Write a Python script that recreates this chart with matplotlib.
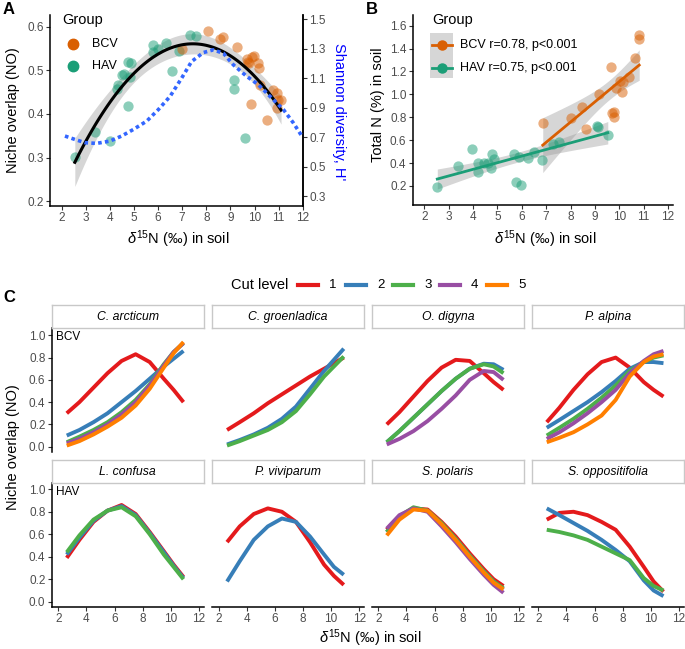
import numpy as np
import matplotlib
matplotlib.use("Agg")
import matplotlib.pyplot as plt
from matplotlib.patches import Rectangle
from matplotlib.lines import Line2D

plt.rcParams['font.family'] = ['Liberation Sans', 'DejaVu Sans']
plt.rcParams['mathtext.fontset'] = 'custom'
plt.rcParams['mathtext.rm'] = 'Liberation Sans'
plt.rcParams['mathtext.it'] = 'Liberation Sans:italic'

# ---------------- data ----------------
# Panel A: niche overlap vs d15N
hav_x_A = [2.55, 3.38, 4.00, 4.28, 4.35, 4.49, 4.59, 4.77, 4.88, 4.84, 4.77, 5.78, 5.80, 6.00,
           6.33, 6.56, 6.87, 7.32, 7.56, 9.15, 9.15, 9.61]
hav_y_A = [0.301, 0.358, 0.337, 0.457, 0.467, 0.490, 0.492, 0.520, 0.516, 0.484, 0.419, 0.558,
           0.543, 0.548, 0.563, 0.499, 0.545, 0.582, 0.579, 0.478, 0.457, 0.345]
bcv_x_A = [6.98, 8.09, 8.57, 8.71, 9.29, 9.68, 9.79, 9.89, 9.98, 9.75, 10.16, 10.20, 10.23,
           9.84, 10.50, 10.78, 10.92, 10.99, 11.10, 10.92]
bcv_y_A = [0.548, 0.591, 0.572, 0.577, 0.554, 0.525, 0.516, 0.530, 0.533, 0.520, 0.516, 0.505,
           0.467, 0.422, 0.387, 0.455, 0.448, 0.432, 0.432, 0.413]
# Shannon diversity curve (right axis)
shannon_x = [2.14, 2.55, 2.97, 3.45, 4.01, 4.49, 4.97, 5.53, 6.01, 6.50, 6.98, 7.39, 7.88, 8.29,
             8.71, 9.12, 9.68, 10.16, 10.64, 11.20, 11.61, 11.96]
shannon_h = [0.707, 0.684, 0.662, 0.657, 0.673, 0.707, 0.751, 0.808, 0.886, 0.976, 1.10, 1.212,
             1.273, 1.291, 1.268, 1.19, 1.111, 1.055, 0.976, 0.886, 0.796, 0.707]

# Panel B: total N vs d15N
hav_x_B = [2.53, 3.36, 3.95, 4.22, 4.19, 4.45, 4.63, 4.73, 4.77, 4.84, 5.68, 5.75, 5.96, 5.90,
           6.27, 6.48, 6.82, 7.30, 7.51, 9.08, 9.11, 9.53]
hav_y_B = [0.194, 0.375, 0.523, 0.398, 0.319, 0.398, 0.398, 0.360, 0.480, 0.433, 0.480, 0.238,
           0.209, 0.450, 0.447, 0.494, 0.427, 0.567, 0.580, 0.724, 0.718, 0.645]
bcv_x_B = [6.86, 8.00, 8.47, 8.64, 9.15, 9.67, 9.70, 9.77, 9.77, 9.85, 10.04, 10.15, 10.10,
           10.42, 10.66, 10.80, 10.82]
bcv_y_B = [0.753, 0.790, 0.887, 0.695, 1.000, 1.242, 0.840, 0.850, 0.805, 1.053, 1.117, 1.110,
           1.020, 1.150, 1.315, 1.520, 1.480]
legend_B = ["BCV r=0.78, p<0.001", "HAV r=0.75, p<0.001"]

# Panel C: niche overlap curves per species and cut level
x_grid = [2.6, 3.5, 4.5, 5.5, 6.5, 7.5, 8.5, 9.5, 10.2, 10.9]
c_arcticum = {1: [0.30, 0.40, 0.53, 0.66, 0.77, 0.83, 0.76, 0.61, 0.51, 0.40],
              2: [0.10, 0.15, 0.22, 0.30, 0.40, 0.50, 0.61, 0.72, 0.79, 0.86],
              3: [0.04, 0.09, 0.15, 0.22, 0.31, 0.42, 0.56, 0.74, 0.85, 0.93],
              4: [0.03, 0.07, 0.13, 0.20, 0.29, 0.40, 0.55, 0.73, 0.85, 0.93],
              5: [0.01, 0.05, 0.11, 0.18, 0.26, 0.37, 0.52, 0.71, 0.84, 0.94]}
c_groenladica = {1: [0.15, 0.22, 0.30, 0.39, 0.47, 0.55, 0.63, 0.70, 0.75, 0.80],
                 2: [0.02, 0.06, 0.11, 0.17, 0.25, 0.36, 0.52, 0.68, 0.78, 0.88],
                 3: [0.01, 0.05, 0.10, 0.15, 0.22, 0.32, 0.47, 0.63, 0.72, 0.81]}
o_digyna = {1: [0.20, 0.31, 0.45, 0.59, 0.71, 0.78, 0.77, 0.66, 0.58, 0.51],
            2: [0.04, 0.14, 0.26, 0.38, 0.50, 0.61, 0.70, 0.745, 0.74, 0.69],
            3: [0.04, 0.14, 0.26, 0.38, 0.50, 0.61, 0.70, 0.74, 0.72, 0.66],
            4: [0.02, 0.07, 0.14, 0.23, 0.34, 0.46, 0.60, 0.68, 0.67, 0.60]}
p_alpina = {1: [0.22, 0.35, 0.51, 0.65, 0.76, 0.80, 0.71, 0.58, 0.51, 0.45],
            2: [0.17, 0.24, 0.32, 0.40, 0.49, 0.59, 0.70, 0.76, 0.76, 0.75],
            3: [0.10, 0.17, 0.25, 0.34, 0.44, 0.55, 0.68, 0.76, 0.80, 0.82],
            4: [0.07, 0.13, 0.21, 0.30, 0.40, 0.51, 0.66, 0.77, 0.83, 0.86],
            5: [0.04, 0.08, 0.13, 0.20, 0.28, 0.42, 0.63, 0.76, 0.81, 0.83]}
l_confusa = {1: [0.39, 0.55, 0.71, 0.81, 0.86, 0.78, 0.62, 0.45, 0.33, 0.22],
             2: [0.42, 0.57, 0.72, 0.81, 0.85, 0.77, 0.61, 0.44, 0.32, 0.21],
             3: [0.44, 0.59, 0.73, 0.81, 0.84, 0.76, 0.60, 0.42, 0.31, 0.20]}
p_viviparum = {1: [0.53, 0.67, 0.78, 0.83, 0.80, 0.71, 0.53, 0.33, 0.23, 0.15],
               2: [0.18, 0.36, 0.55, 0.67, 0.74, 0.71, 0.58, 0.42, 0.31, 0.24]}
s_polaris = {1: [0.64, 0.76, 0.83, 0.82, 0.71, 0.58, 0.43, 0.29, 0.20, 0.14],
             2: [0.62, 0.75, 0.83, 0.81, 0.69, 0.56, 0.41, 0.27, 0.18, 0.11],
             3: [0.62, 0.76, 0.84, 0.81, 0.70, 0.56, 0.41, 0.27, 0.18, 0.12],
             4: [0.65, 0.77, 0.83, 0.80, 0.67, 0.53, 0.38, 0.24, 0.15, 0.08],
             5: [0.59, 0.73, 0.82, 0.81, 0.69, 0.55, 0.40, 0.26, 0.17, 0.11]}
s_oppositifolia = {1: [0.73, 0.79, 0.80, 0.77, 0.71, 0.64, 0.49, 0.31, 0.18, 0.09],
                   2: [0.83, 0.77, 0.70, 0.63, 0.55, 0.46, 0.36, 0.19, 0.10, 0.05],
                   3: [0.64, 0.62, 0.59, 0.55, 0.49, 0.43, 0.37, 0.21, 0.14, 0.10]}
species_names = ["C. arcticum", "C. groenladica", "O. digyna", "P. alpina",
                 "L. confusa", "P. viviparum", "S. polaris", "S. oppositifolia"]
species_data = [c_arcticum, c_groenladica, o_digyna, p_alpina,
                l_confusa, p_viviparum, s_polaris, s_oppositifolia]
row_labels = ["BCV", "HAV"]
cut_levels = [1, 2, 3, 4, 5]

# ---------------- style ----------------
BCV_C = "#D95F02"
HAV_C = "#1B9E77"
CUT_C = {1: "#E41A1C", 2: "#377EB8", 3: "#4DAF4A", 4: "#984EA3", 5: "#FF7F00"}
TICKC = "#4D4D4D"
TICK_FS = 8.5
W, H = 685, 649
fig = plt.figure(figsize=(W / 100, H / 100), dpi=100)


def rect(l, t, w, h):
    return [l / W, 1 - (t + h) / H, w / W, h / H]


def fx(px):
    return px / W


def fy(py):
    return 1 - py / H


def style_axis(ax, left=True, bottom=True, right=False):
    for s in ['top', 'right', 'left', 'bottom']:
        ax.spines[s].set_visible(False)
    if left:
        ax.spines['left'].set_visible(True)
    if bottom:
        ax.spines['bottom'].set_visible(True)
    if right:
        ax.spines['right'].set_visible(True)
    for s in ax.spines.values():
        s.set_linewidth(1.1)
        s.set_color('black')
    ax.tick_params(axis='both', length=3, width=0.8, color='#333333', labelcolor=TICKC,
                   labelsize=TICK_FS, pad=1.5)
    ax.set_facecolor('none')


def fit_ci(x, y, deg, xs, t):
    x = np.asarray(x, float)
    y = np.asarray(y, float)
    X = np.vander(x, deg + 1)
    beta, *_ = np.linalg.lstsq(X, y, rcond=None)
    resid = y - X @ beta
    dof = len(x) - deg - 1
    s2 = resid @ resid / dof
    XtXi = np.linalg.inv(X.T @ X)
    Xs = np.vander(xs, deg + 1)
    yhat = Xs @ beta
    se = np.sqrt(np.einsum('ij,jk,ik->i', Xs, XtXi, Xs) * s2)
    return yhat, yhat - t * se, yhat + t * se


# ---------------- Panel A ----------------
axA = fig.add_axes(rect(50, 15, 253, 191))
style_axis(axA, right=True)
axA.set_xlim(1.52, 12.01)
axA.set_ylim(0.189, 0.627)
SA, SB = 2.956, -0.326
secA = axA.secondary_yaxis('right', functions=(lambda v: SA * v + SB, lambda v: (v - SB) / SA))
secA.set_yticks([0.3, 0.5, 0.7, 0.9, 1.1, 1.3, 1.5])
secA.tick_params(length=3, width=0.8, color='#333333', labelcolor=TICKC, labelsize=TICK_FS,
                 pad=1.5)
secA.spines['right'].set_linewidth(1.1)
axA.set_xticks(range(2, 13))
axA.set_yticks([0.2, 0.3, 0.4, 0.5, 0.6])

all_x = np.array(hav_x_A + bcv_x_A)
all_y = np.array(hav_y_A + bcv_y_A)
xsA = np.linspace(all_x.min(), all_x.max(), 100)
yhat, lo, hi = fit_ci(all_x, all_y, 2, xsA, 2.02)
axA.fill_between(xsA, lo, hi, color='#999999', alpha=0.4, lw=0, zorder=1)
axA.scatter(hav_x_A, hav_y_A, s=55, color=HAV_C, alpha=0.5, lw=0, zorder=2)
axA.scatter(bcv_x_A, bcv_y_A, s=55, color=BCV_C, alpha=0.5, lw=0, zorder=2)
axA.plot(xsA, yhat, color='black', lw=2.2, zorder=3)
sh_left = (np.array(shannon_h) - SB) / SA
axA.plot(shannon_x, sh_left, color='#3366FF', lw=2.6, ls=(0, (1.0, 0.9)), zorder=4,
         clip_on=False)

# legend A
fig.text(fx(62), fy(20), "Group", fontsize=10.5, va='center', ha='left')
for yy, lab, col in [(44, "BCV", BCV_C), (66, "HAV", HAV_C)]:
    fig.add_artist(Line2D([fx(73)], [fy(yy)], marker='o', ms=7.5, color=col, lw=0))
    fig.text(fx(92), fy(yy), lab, fontsize=9, va='center', ha='left')

fig.text(fx(13), fy(110), "Niche overlap (NO)", rotation=90, fontsize=10.5, va='center',
         ha='center')
fig.text(fx(339), fy(112), "Shannon diversity, H'", rotation=-90, fontsize=10.5, va='center',
         ha='center', color='#0000FF')
xlab = r"$\delta^{15}$N (‰) in soil"
fig.text(fx(178), fy(239), xlab, fontsize=10.5, va='center', ha='center')

# ---------------- Panel B ----------------
axB = fig.add_axes(rect(412.7, 15, 260.6, 190))
style_axis(axB)
axB.set_xlim(1.52, 12.22)
axB.set_ylim(0.034, 1.693)
axB.set_xticks(range(2, 13))
axB.set_yticks([0.2, 0.4, 0.6, 0.8, 1.0, 1.2, 1.4, 1.6])
for xs_, ys_, col in [(hav_x_B, hav_y_B, HAV_C), (bcv_x_B, bcv_y_B, BCV_C)]:
    xg = np.linspace(min(xs_), max(xs_), 60)
    yh, lo, hi = fit_ci(xs_, ys_, 1, xg, 2.09)
    axB.fill_between(xg, lo, hi, color='#999999', alpha=0.4, lw=0, zorder=1)
for xs_, ys_, col in [(hav_x_B, hav_y_B, HAV_C), (bcv_x_B, bcv_y_B, BCV_C)]:
    axB.scatter(xs_, ys_, s=55, color=col, alpha=0.5, lw=0, zorder=2)
for xs_, ys_, col in [(hav_x_B, hav_y_B, HAV_C), (bcv_x_B, bcv_y_B, BCV_C)]:
    xg = np.linspace(min(xs_), max(xs_), 60)
    yh, lo, hi = fit_ci(xs_, ys_, 1, xg, 2.09)
    axB.plot(xg, yh, color=col, lw=2.0, zorder=3)

fig.text(fx(432), fy(20), "Group", fontsize=10.5, va='center', ha='left')
fig.add_artist(Rectangle((fx(430), fy(78)), (453 - 430) / W, (78 - 33) / H,
                         facecolor='#D6D6D6', edgecolor='none'))
for yy, lab, col in [(45, legend_B[0], BCV_C), (68, legend_B[1], HAV_C)]:
    fig.add_artist(Line2D([fx(432), fx(452)], [fy(yy), fy(yy)], color=col, lw=2.0))
    fig.add_artist(Line2D([fx(442)], [fy(yy)], marker='o', ms=6.5, color=col, lw=0))
    fig.text(fx(460), fy(yy), lab, fontsize=9, va='center', ha='left')
fig.text(fx(378), fy(105), "Total N (%) in soil", rotation=90, fontsize=10.5, va='center',
         ha='center')
fig.text(fx(545), fy(239), xlab, fontsize=10.5, va='center', ha='center')

# ---------------- Panel C ----------------
col_lefts = [51.7, 212, 371.7, 531.7]
pw = 152.3
row_tops = [328.3, 483.3]
ph = 123.4
strip_h = 23.3
ylims = [(-0.045, 1.063), (-0.044, 1.053)]
for i, (name, data) in enumerate(zip(species_names, species_data)):
    r, c = divmod(i, 4)
    ax = fig.add_axes(rect(col_lefts[c], row_tops[r], pw, ph))
    style_axis(ax, left=(c == 0), bottom=(r == 1))
    ax.set_xlim(1.53, 12.36)
    ax.set_ylim(*ylims[r])
    ax.set_xticks([2, 4, 6, 8, 10, 12])
    ax.set_yticks([0.0, 0.2, 0.4, 0.6, 0.8, 1.0])
    if c != 0:
        ax.tick_params(axis='y', left=False, labelleft=False)
    if r != 1:
        ax.tick_params(axis='x', bottom=False, labelbottom=False)
    for lvl in cut_levels:
        if lvl in data:
            ax.plot(x_grid, data[lvl], color=CUT_C[lvl], lw=2.8, solid_capstyle='butt',
                    solid_joinstyle='round')
    if c == 0:
        ax.text(0.03, 0.93, row_labels[r], transform=ax.transAxes, fontsize=8.5,
                va='center', ha='left')
    sax = fig.add_axes(rect(col_lefts[c], row_tops[r] - strip_h, pw, strip_h))
    sax.set_xticks([])
    sax.set_yticks([])
    sax.set_facecolor('white')
    for s in sax.spines.values():
        s.set_color('#C8C8C8')
        s.set_linewidth(1.0)
    sax.text(0.5, 0.5, name, style='italic', fontsize=8.8, ha='center', va='center',
             transform=sax.transAxes)

# legend C
fig.text(fx(288), fy(285), "Cut level", fontsize=10.5, va='center', ha='right')
key_x = [298, 346, 393, 440, 487]
for lvl, kx in zip(cut_levels, key_x):
    fig.add_artist(Line2D([fx(kx), fx(kx + 20)], [fy(285), fy(285)], color=CUT_C[lvl], lw=3.0))
    fig.text(fx(kx + 31), fy(285), str(lvl), fontsize=9.5, va='center', ha='left')

fig.text(fx(13), fy(447), "Niche overlap (NO)", rotation=90, fontsize=10.5, va='center',
         ha='center')
fig.text(fx(370), fy(638), xlab, fontsize=10.5, va='center', ha='center')

# panel tags
for tag, (px, py) in {"A": (9, 10), "B": (372, 10), "C": (9, 298)}.items():
    fig.text(fx(px), fy(py), tag, fontsize=12, fontweight='bold', va='center', ha='center')

fig.savefig("out.png", dpi=100)
